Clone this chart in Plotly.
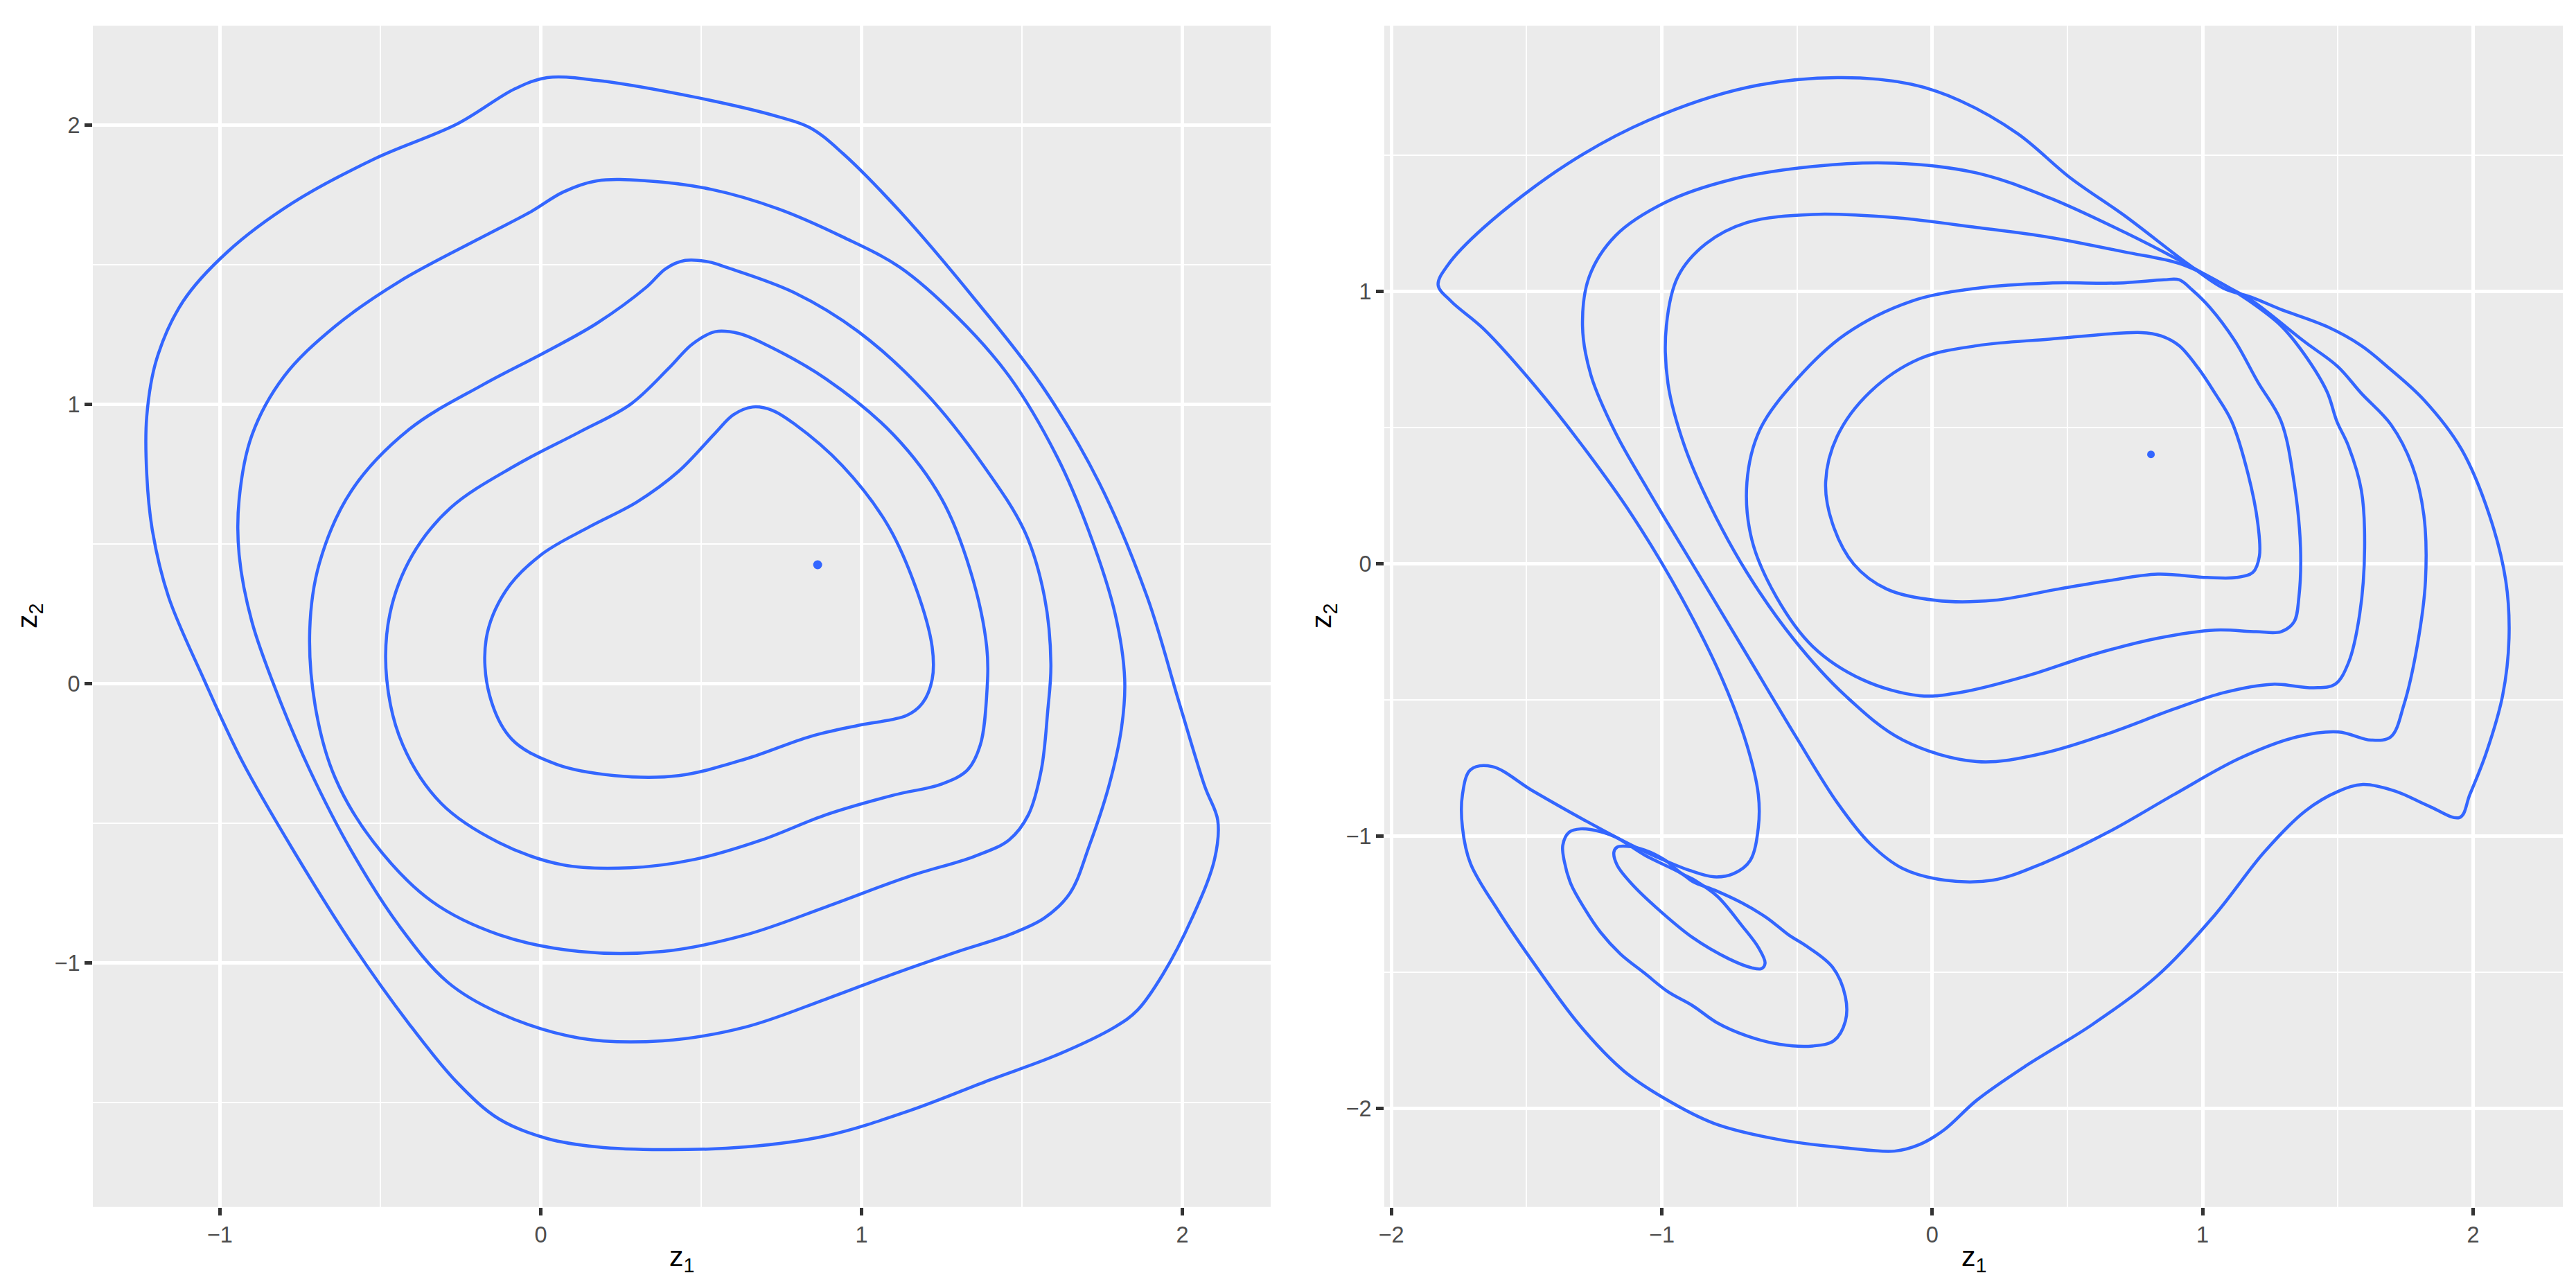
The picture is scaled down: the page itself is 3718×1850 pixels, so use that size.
import plotly.graph_objects as go

# ---------------- Left panel contours (data units) ----------------
L1_x = [0.02,0.175,0.48,0.74,0.84,0.94,1.12,1.35,1.56,1.74,1.89,1.99,2.07,2.11,2.10,2.03,1.94,1.86,1.79,1.61,1.40,1.15,0.89,0.64,0.38,0.175,0.02,-0.13,-0.26,-0.41,-0.59,-0.77,-0.93,-1.05,-1.16,-1.21,-1.228,-1.228,-1.197,-1.115,-0.977,-0.772,-0.516,-0.26,-0.08]
L1_y = [2.17,2.16,2.10,2.03,1.99,1.90,1.69,1.38,1.07,0.72,0.31,-0.07,-0.37,-0.49,-0.63,-0.84,-1.04,-1.17,-1.23,-1.33,-1.42,-1.53,-1.62,-1.66,-1.67,-1.66,-1.63,-1.56,-1.43,-1.22,-0.93,-0.60,-0.28,0.015,0.31,0.545,0.75,0.956,1.162,1.368,1.545,1.722,1.88,2.004,2.13]

L2_x = [0.175,0.33,0.53,0.74,0.94,1.12,1.30,1.46,1.61,1.71,1.79,1.82,1.81,1.77,1.71,1.65,1.57,1.46,1.30,1.10,0.89,0.64,0.38,0.12,-0.13,-0.29,-0.44,-0.59,-0.72,-0.82,-0.90,-0.94,-0.94,-0.90,-0.80,-0.64,-0.44,-0.18,-0.03,0.07]
L2_y = [1.80,1.80,1.77,1.70,1.60,1.49,1.31,1.10,0.81,0.54,0.25,0.015,-0.16,-0.37,-0.58,-0.75,-0.84,-0.90,-0.96,-1.04,-1.13,-1.23,-1.28,-1.27,-1.18,-1.07,-0.87,-0.60,-0.31,-0.04,0.22,0.46,0.66,0.89,1.10,1.28,1.44,1.60,1.69,1.76]

L3_x = [0.45,0.523,0.58,0.79,0.99,1.20,1.38,1.51,1.57,1.59,1.58,1.56,1.52,1.46,1.35,1.15,0.89,0.64,0.38,0.12,-0.13,-0.34,-0.52,-0.64,-0.70,-0.72,-0.69,-0.59,-0.41,-0.18,0.02,0.175,0.33,0.39]
L3_y = [1.515,1.51,1.49,1.40,1.26,1.04,0.78,0.54,0.31,0.07,-0.10,-0.31,-0.47,-0.56,-0.62,-0.69,-0.80,-0.90,-0.96,-0.96,-0.90,-0.78,-0.57,-0.34,-0.10,0.19,0.43,0.69,0.91,1.07,1.19,1.29,1.42,1.486]

L4_x = [0.544,0.616,0.69,0.89,1.10,1.25,1.34,1.39,1.39,1.37,1.33,1.25,1.10,0.89,0.69,0.48,0.28,0.07,-0.13,-0.31,-0.43,-0.48,-0.47,-0.40,-0.28,-0.08,0.12,0.28,0.40,0.472]
L4_y = [1.26,1.254,1.22,1.09,0.89,0.66,0.40,0.13,-0.04,-0.22,-0.31,-0.36,-0.40,-0.47,-0.56,-0.63,-0.66,-0.65,-0.57,-0.43,-0.22,0.015,0.25,0.46,0.63,0.78,0.90,1.00,1.13,1.215]

L5_x = [0.66,0.72,0.79,0.94,1.08,1.17,1.22,1.22,1.19,1.14,0.99,0.84,0.64,0.43,0.23,0.05,-0.09,-0.16,-0.17,-0.11,0.0,0.15,0.30,0.43,0.544,0.60]
L5_y = [0.99,0.979,0.93,0.78,0.57,0.34,0.13,0.015,-0.07,-0.115,-0.15,-0.19,-0.27,-0.33,-0.33,-0.29,-0.20,-0.04,0.16,0.33,0.46,0.56,0.65,0.76,0.897,0.962]

L_peak_x = [0.863]
L_peak_y = [0.425]

# ---------------- Right panel contours (data units) ----------------
R1_x = [-1.827,-1.779,-1.658,-1.476,-1.293,-1.111,-0.928,-0.776,-0.685,-0.643,-0.643,-0.673,-0.734,-0.807,-0.898,-1.019,-1.111,-1.293,-1.476,-1.628,-1.707,-1.737,-1.737,-1.707,-1.603,-1.476,-1.305,-1.141,-0.989,-0.807,-0.564,-0.321,-0.139,-0.047,0.044,0.165,0.348,0.591,0.834,1.046,1.228,1.380,1.502,1.593,1.714,1.836,1.951,1.988,2.048,2.109,2.133,2.121,2.060,1.957,1.818,1.684,1.587,1.460,1.290,1.180,1.077,0.943,0.712,0.511,0.317,0.104,-0.078,-0.351,-0.685,-1.050,-1.354,-1.658,-1.791]
R1_y = [1.023,0.963,0.861,0.661,0.432,0.179,-0.123,-0.425,-0.667,-0.848,-0.969,-1.090,-1.138,-1.150,-1.126,-1.077,-1.034,-0.938,-0.835,-0.745,-0.757,-0.848,-0.969,-1.102,-1.277,-1.463,-1.693,-1.862,-1.964,-2.055,-2.115,-2.145,-2.157,-2.133,-2.079,-1.970,-1.843,-1.693,-1.512,-1.289,-1.059,-0.908,-0.836,-0.811,-0.836,-0.890,-0.932,-0.848,-0.697,-0.486,-0.274,-0.063,0.179,0.420,0.601,0.722,0.800,0.870,0.933,0.978,1.011,1.102,1.277,1.416,1.578,1.699,1.760,1.784,1.748,1.627,1.464,1.234,1.096]

R2_x = [0.913,0.712,0.433,0.165,-0.139,-0.442,-0.746,-0.989,-1.171,-1.268,-1.293,-1.262,-1.171,-1.050,-0.868,-0.685,-0.503,-0.351,-0.229,-0.108,0.044,0.226,0.408,0.651,0.894,1.137,1.350,1.502,1.623,1.696,1.745,1.793,1.824,1.818,1.775,1.696,1.587,1.500,1.375,1.180,1.077]
R2_y = [1.114,1.216,1.343,1.434,1.470,1.458,1.409,1.325,1.204,1.054,0.873,0.692,0.480,0.269,-0.032,-0.335,-0.637,-0.878,-1.029,-1.120,-1.162,-1.162,-1.101,-0.986,-0.848,-0.715,-0.636,-0.618,-0.648,-0.636,-0.516,-0.305,-0.063,0.178,0.360,0.511,0.625,0.723,0.816,0.967,1.024]

R3_x = [0.913,0.712,0.433,0.165,-0.139,-0.442,-0.685,-0.837,-0.940,-0.983,-0.977,-0.916,-0.819,-0.685,-0.515,-0.321,-0.108,0.165,0.408,0.651,0.894,1.077,1.259,1.411,1.490,1.539,1.581,1.599,1.587,1.539,1.496,1.460,1.375,1.290,1.174,1.046]
R3_y = [1.102,1.144,1.198,1.234,1.270,1.282,1.252,1.174,1.054,0.873,0.661,0.432,0.209,-0.033,-0.274,-0.485,-0.648,-0.727,-0.697,-0.624,-0.534,-0.474,-0.443,-0.456,-0.443,-0.365,-0.184,0.058,0.269,0.432,0.523,0.631,0.770,0.873,0.963,1.042]

R4_x = [0.165,0.433,0.688,0.857,0.913,0.961,1.028,1.119,1.204,1.290,1.338,1.362,1.356,1.338,1.290,1.198,1.046,0.834,0.591,0.348,0.104,-0.047,-0.260,-0.442,-0.576,-0.667,-0.685,-0.637,-0.503,-0.321,-0.078]
R4_y = [1.011,1.030,1.030,1.042,1.042,1.005,0.939,0.818,0.667,0.523,0.299,0.058,-0.123,-0.214,-0.250,-0.250,-0.244,-0.274,-0.335,-0.413,-0.473,-0.485,-0.425,-0.304,-0.123,0.088,0.299,0.492,0.674,0.842,0.963]

R5_x = [0.165,0.433,0.773,0.846,0.913,0.985,1.046,1.107,1.168,1.204,1.210,1.186,1.125,1.016,0.834,0.651,0.469,0.226,0.013,-0.169,-0.290,-0.369,-0.394,-0.351,-0.229,-0.047]
R5_y = [0.800,0.824,0.848,0.836,0.800,0.716,0.625,0.523,0.329,0.148,0.028,-0.032,-0.051,-0.051,-0.039,-0.063,-0.093,-0.135,-0.135,-0.093,-0.002,0.148,0.299,0.468,0.631,0.752]

R6_x = [-0.928,-1.062,-1.171,-1.244,-1.299,-1.342,-1.366,-1.360,-1.336,-1.287,-1.226,-1.153,-1.062,-0.977,-0.886,-0.795,-0.685,-0.564,-0.442,-0.364,-0.321,-0.321,-0.369,-0.473,-0.527,-0.612,-0.703,-0.795,-0.886]
R6_y = [-1.137,-1.071,-1.004,-0.980,-0.974,-0.986,-1.034,-1.095,-1.176,-1.264,-1.354,-1.433,-1.505,-1.572,-1.623,-1.686,-1.734,-1.765,-1.771,-1.752,-1.680,-1.590,-1.481,-1.399,-1.366,-1.300,-1.246,-1.203,-1.167]

R7_x = [-1.177,-1.165,-1.129,-1.062,-0.989,-0.928,-0.886,-0.795,-0.703,-0.643,-0.618,-0.631,-0.667,-0.752,-0.886,-1.019,-1.111,-1.165]
R7_y = [-1.059,-1.041,-1.038,-1.052,-1.088,-1.137,-1.158,-1.221,-1.330,-1.409,-1.467,-1.487,-1.484,-1.451,-1.373,-1.264,-1.176,-1.107]

R_peak_x = [0.809]
R_peak_y = [0.401]

# ---------------- Axes ----------------
left_xrange = [-1.396, 2.275]
left_yrange = [-1.875, 2.356]
right_xrange = [-2.026, 2.332]
right_yrange = [-2.362, 1.975]
left_xticks = [-1, 0, 1, 2]
left_yticks = [-1, 0, 1, 2]
right_xticks = [-2, -1, 0, 1, 2]
right_yticks = [-2, -1, 0, 1]

LINE = "#3366FF"
LW = 4.5
W, H = 3718, 1850

fig = go.Figure()

def add_loop(xs, ys, xa, ya):
    fig.add_trace(go.Scatter(x=list(xs) + [xs[0]], y=list(ys) + [ys[0]], mode="lines",
                             line=dict(color=LINE, width=LW, shape="spline", smoothing=1.0),
                             xaxis=xa, yaxis=ya, showlegend=False, hoverinfo="skip"))

for xs, ys in [(L1_x, L1_y), (L2_x, L2_y), (L3_x, L3_y), (L4_x, L4_y), (L5_x, L5_y)]:
    add_loop(xs, ys, "x", "y")
for xs, ys in [(R1_x, R1_y), (R2_x, R2_y), (R3_x, R3_y), (R4_x, R4_y), (R5_x, R5_y), (R6_x, R6_y), (R7_x, R7_y)]:
    add_loop(xs, ys, "x2", "y2")

fig.add_trace(go.Scatter(x=L_peak_x, y=L_peak_y, mode="markers", marker=dict(color=LINE, size=13),
                         xaxis="x", yaxis="y", showlegend=False))
fig.add_trace(go.Scatter(x=R_peak_x, y=R_peak_y, mode="markers", marker=dict(color=LINE, size=11),
                         xaxis="x2", yaxis="y2", showlegend=False))

top = 1 - 29 / H
bot = 1 - 1733.7 / H
lx0, lx1 = 126 / W, 1826 / W
rx0, rx1 = 1990 / W, 3691 / W

tickfont = dict(family="Liberation Sans, Arial, sans-serif", size=32.5, color="#4D4D4D")

def axis(dom, rng, ticks, anchor):
    return dict(domain=dom, range=rng, tickvals=ticks, ticktext=[("\u2212" + str(-t)) if t < 0 else str(t) for t in ticks],
                showgrid=True, gridcolor="white", gridwidth=4.7, zeroline=False,
                ticks="outside", ticklen=11, tickwidth=4.7, tickcolor="#333333",
                tickfont=tickfont, showline=False, anchor=anchor, fixedrange=True, automargin=False,
                minor=dict(dtick=0.5, tick0=0, showgrid=True, gridcolor="white", gridwidth=2.3, ticks=""))

fig.update_layout(
    width=W, height=H,
    margin=dict(l=0, r=0, t=0, b=0, autoexpand=False),
    paper_bgcolor="white", plot_bgcolor="#EBEBEB",
    xaxis=axis([lx0, lx1], left_xrange, left_xticks, "y"),
    yaxis=axis([bot, top], left_yrange, left_yticks, "x"),
    xaxis2=axis([rx0, rx1], right_xrange, right_xticks, "y2"),
    yaxis2=axis([bot, top], right_yrange, right_yticks, "x2"),
    showlegend=False,
)

title_font = dict(family="Liberation Sans, Arial, sans-serif", size=41, color="black")
fig.add_annotation(text="z<sub>1</sub>", x=(lx0 + lx1) / 2, y=1 - 1808 / H, xref="paper", yref="paper",
                   showarrow=False, font=title_font, xanchor="center", yanchor="middle")
fig.add_annotation(text="z<sub>1</sub>", x=(rx0 + rx1) / 2, y=1 - 1808 / H, xref="paper", yref="paper",
                   showarrow=False, font=title_font, xanchor="center", yanchor="middle")
fig.add_annotation(text="z<sub>2</sub>", x=34 / W, y=1 - 881 / H, xref="paper", yref="paper",
                   showarrow=False, font=title_font, xanchor="center", yanchor="middle", textangle=-90)
fig.add_annotation(text="z<sub>2</sub>", x=1902 / W, y=1 - 881 / H, xref="paper", yref="paper",
                   showarrow=False, font=title_font, xanchor="center", yanchor="middle", textangle=-90)

fig.write_html("out.html")
